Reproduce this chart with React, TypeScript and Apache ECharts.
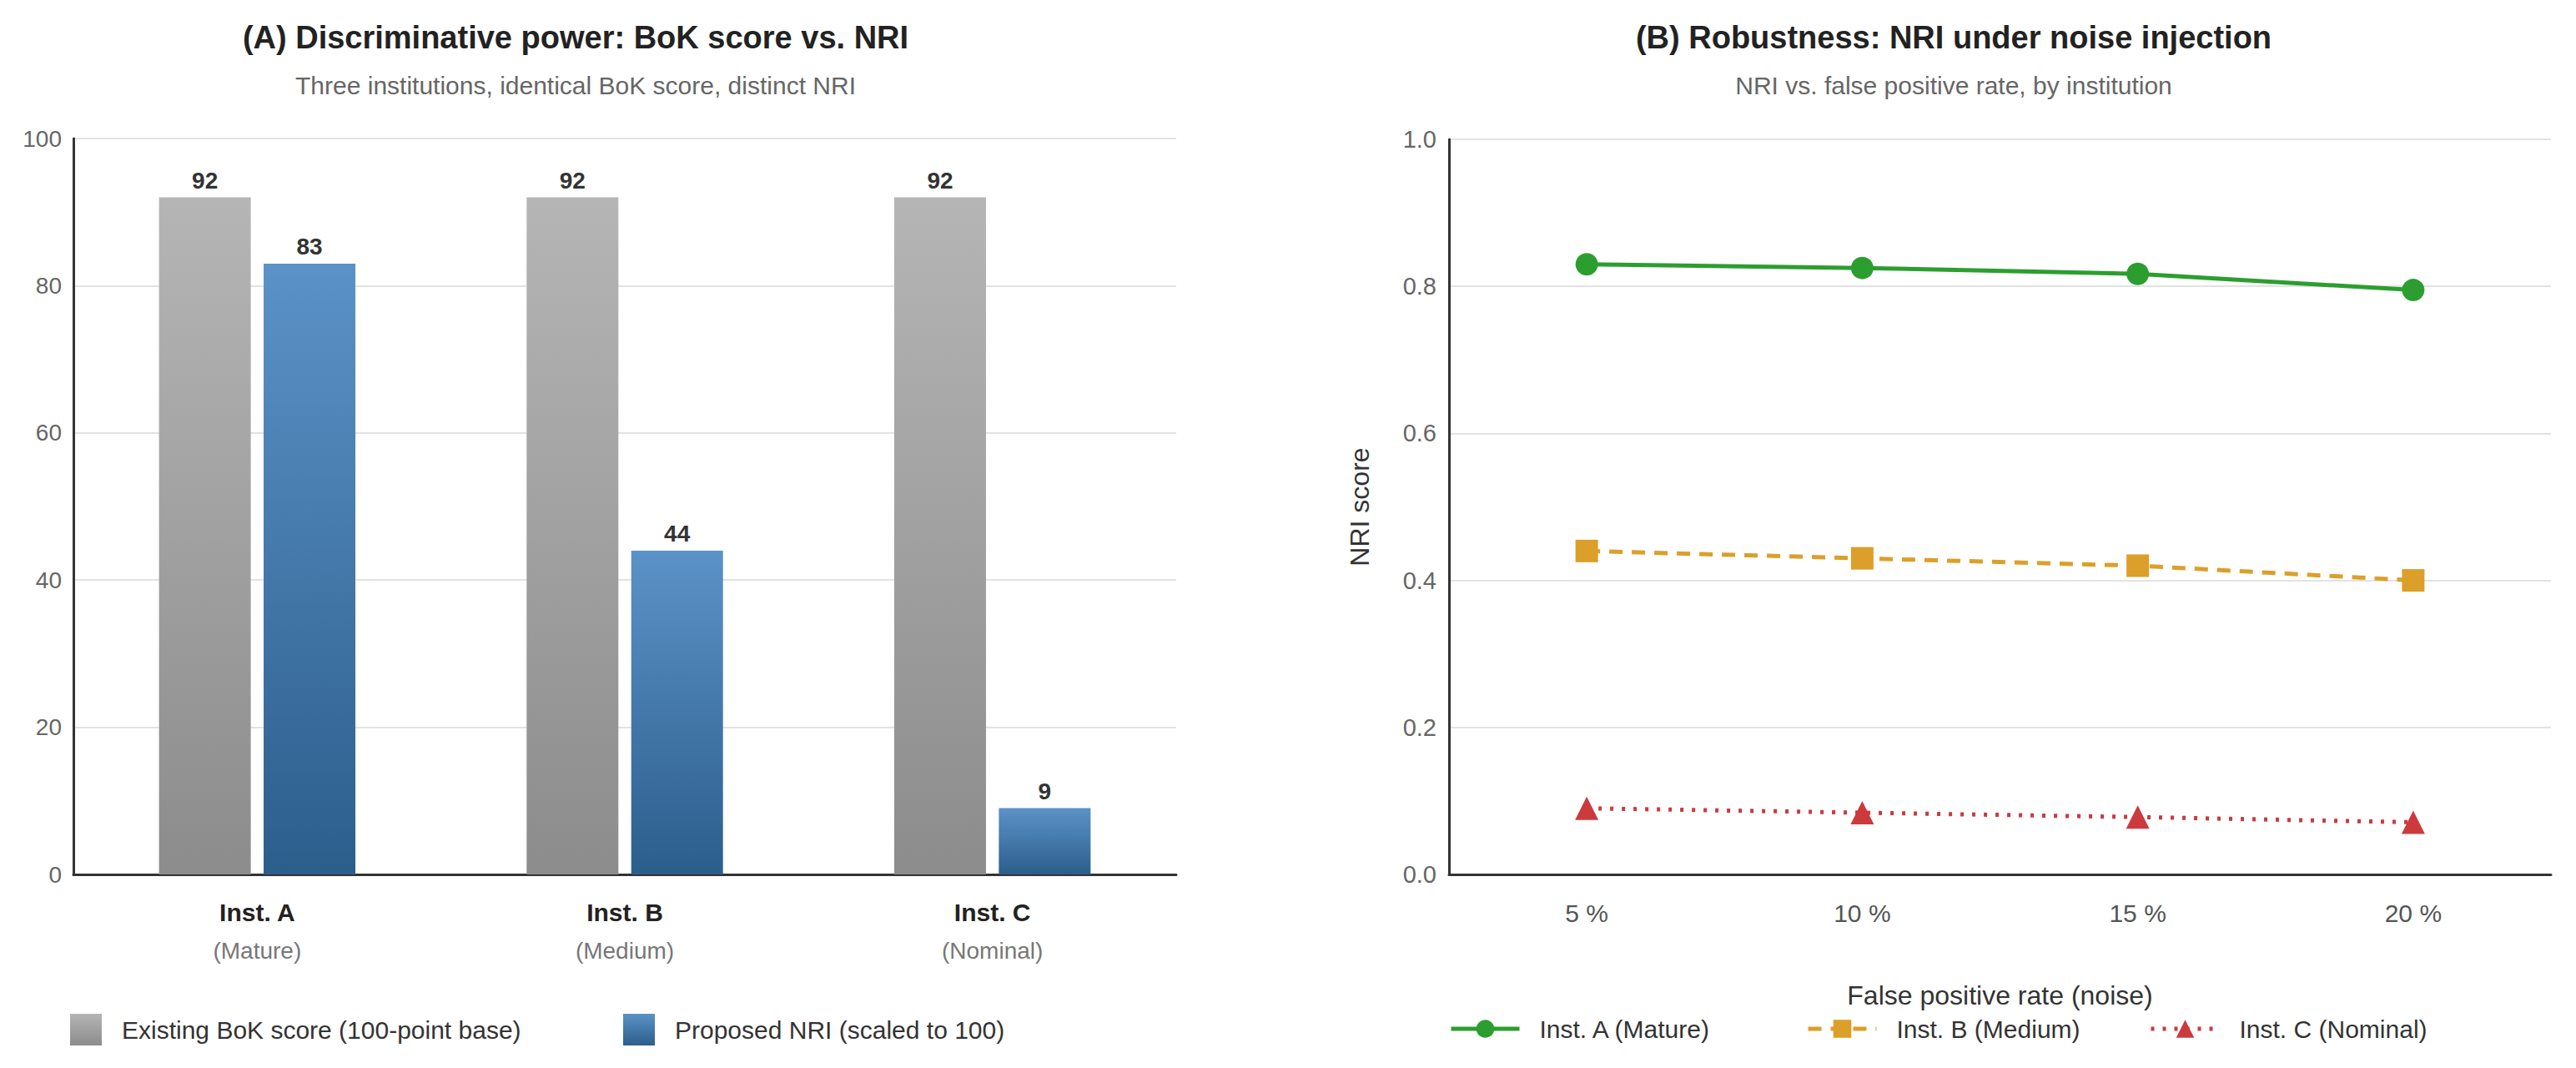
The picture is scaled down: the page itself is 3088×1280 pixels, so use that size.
import React, { useEffect, useRef } from 'react';
import * as echarts from 'echarts';

const instNames = ['Inst. A', 'Inst. B', 'Inst. C'];
const instTiers = ['Mature', 'Medium', 'Nominal'];
const bokScores = [92, 92, 92];
const nriScaled = [83, 44, 9];

const noiseLevels = ['5 %', '10 %', '15 %', '20 %'];
const nriMature = [0.83, 0.825, 0.817, 0.795];
const nriMedium = [0.44, 0.43, 0.42, 0.4];
const nriNominal = [0.09, 0.084, 0.078, 0.071];

const barSeriesNames = ['Existing BoK score (100-point base)', 'Proposed NRI (scaled to 100)'];
const lineSeriesNames = ['Inst. A (Mature)', 'Inst. B (Medium)', 'Inst. C (Nominal)'];

const W = 3088;
const H = 1280;
const FONT = '"Liberation Sans", Arial, Helvetica, sans-serif';

export default function App() {
  const ref = useRef<HTMLDivElement>(null);

  useEffect(() => {
    if (!ref.current) return;
    const chart = echarts.init(ref.current, undefined, { renderer: 'svg', width: W, height: H });

    const gray = new echarts.graphic.LinearGradient(0, 0, 0, 1, [
      { offset: 0, color: '#b5b5b5' },
      { offset: 1, color: '#8c8c8c' },
    ]);
    const blue = new echarts.graphic.LinearGradient(0, 0, 0, 1, [
      { offset: 0, color: '#5b92c7' },
      { offset: 1, color: '#2c5e8c' },
    ]);

    const green = '#2c9e2f';
    const orange = '#dc9f2a';
    const red = '#cc3a3e';

    const barLabel = {
      show: true,
      position: 'top',
      distance: 6,
      fontSize: 28,
      fontWeight: 'bold',
      color: '#333',
      fontFamily: FONT,
    };

    const axisLineStyle = { show: true, lineStyle: { color: '#333', width: 3 } };
    const splitLineStyle = { show: true, lineStyle: { color: '#e2e2e2', width: 2 } };

    const barLegend = (i: number, left: number) => ({
      data: [barSeriesNames[i]],
      left,
      top: 1215,
      padding: 0,
      itemWidth: 38,
      itemHeight: 38,
      icon: 'rect',
      textStyle: { fontSize: 30, color: '#333', fontFamily: FONT, padding: [0, 0, 0, 19] },
    });
    const lineLegend = (i: number, left: number) => ({
      data: [lineSeriesNames[i]],
      left,
      top: 1218,
      padding: 0,
      itemWidth: 82,
      itemHeight: 27,
      lineStyle: { width: 5 },
      textStyle: { fontSize: 30, color: '#333', fontFamily: FONT, padding: [0, 0, 0, 19] },
    });

    const option: any = {
      animation: false,
      backgroundColor: '#ffffff',
      textStyle: { fontFamily: FONT },
      title: [
        {
          text: '(A) Discriminative power: BoK score vs. NRI',
          left: 690, top: 26, textAlign: 'center', padding: 0,
          textStyle: { fontSize: 38, fontWeight: 'bold', color: '#222', fontFamily: FONT },
        },
        {
          text: 'Three institutions, identical BoK score, distinct NRI',
          left: 690, top: 87, textAlign: 'center', padding: 0,
          textStyle: { fontSize: 30, fontWeight: 'normal', color: '#666', fontFamily: FONT },
        },
        {
          text: '(B) Robustness: NRI under noise injection',
          left: 2342, top: 26, textAlign: 'center', padding: 0,
          textStyle: { fontSize: 38, fontWeight: 'bold', color: '#222', fontFamily: FONT },
        },
        {
          text: 'NRI vs. false positive rate, by institution',
          left: 2342, top: 87, textAlign: 'center', padding: 0,
          textStyle: { fontSize: 30, fontWeight: 'normal', color: '#666', fontFamily: FONT },
        },
      ],
      legend: [
        barLegend(0, 84),
        barLegend(1, 747),
        lineLegend(0, 1737),
        lineLegend(1, 2165),
        lineLegend(2, 2576),
      ],
      grid: [
        { left: 88, right: W - 1410, top: 166, bottom: H - 1048 },
        { left: 1737, right: W - 3058, top: 167, bottom: H - 1048 },
      ],
      xAxis: [
        {
          type: 'category',
          gridIndex: 0,
          data: instNames,
          axisLine: axisLineStyle,
          axisTick: { show: false },
          axisLabel: {
            margin: 22,
            formatter: (v: string, i: number) => `{a|${v}}\n{b|(${instTiers[i]})}`,
            rich: {
              a: { fontSize: 30, fontWeight: 'bold', color: '#222', lineHeight: 46, fontFamily: FONT },
              b: { fontSize: 28, color: '#777', lineHeight: 46, fontFamily: FONT },
            },
          },
        },
        {
          type: 'category',
          gridIndex: 1,
          data: noiseLevels,
          name: 'False positive rate (noise)',
          nameLocation: 'middle',
          nameGap: 145,
          nameTextStyle: { fontSize: 32, color: '#333', verticalAlign: 'middle', fontFamily: FONT },
          axisLine: axisLineStyle,
          axisTick: { show: false },
          axisLabel: { margin: 31, fontSize: 30, color: '#555', lineHeight: 30, fontFamily: FONT },
        },
      ],
      yAxis: [
        {
          type: 'value',
          gridIndex: 0,
          min: 0,
          max: 100,
          interval: 20,
          axisLine: axisLineStyle,
          axisTick: { show: false },
          axisLabel: { fontSize: 28, color: '#666', margin: 14, fontFamily: FONT },
          splitLine: splitLineStyle,
        },
        {
          type: 'value',
          gridIndex: 1,
          min: 0,
          max: 1,
          interval: 0.2,
          name: 'NRI score',
          nameLocation: 'middle',
          nameGap: 107,
          nameTextStyle: { fontSize: 32, color: '#333', verticalAlign: 'middle', fontFamily: FONT },
          axisLine: axisLineStyle,
          axisTick: { show: false },
          axisLabel: {
            fontSize: 29, color: '#666', margin: 15, fontFamily: FONT,
            formatter: (v: number) => v.toFixed(1),
          },
          splitLine: splitLineStyle,
        },
      ],
      series: [
        {
          type: 'bar',
          name: barSeriesNames[0],
          xAxisIndex: 0,
          yAxisIndex: 0,
          data: bokScores,
          barWidth: 110,
          barGap: '14%',
          itemStyle: { color: gray },
          label: barLabel,
        },
        {
          type: 'bar',
          name: barSeriesNames[1],
          xAxisIndex: 0,
          yAxisIndex: 0,
          data: nriScaled,
          barWidth: 110,
          barGap: '14%',
          itemStyle: { color: blue },
          label: barLabel,
        },
        {
          type: 'line',
          name: lineSeriesNames[0],
          xAxisIndex: 1,
          yAxisIndex: 1,
          data: nriMature,
          symbol: 'circle',
          symbolSize: 27,
          lineStyle: { color: green, width: 5 },
          itemStyle: { color: green },
        },
        {
          type: 'line',
          name: lineSeriesNames[1],
          xAxisIndex: 1,
          yAxisIndex: 1,
          data: nriMedium,
          symbol: 'rect',
          symbolSize: 27,
          lineStyle: { color: orange, width: 5, type: [16, 11] },
          itemStyle: { color: orange },
        },
        {
          type: 'line',
          name: lineSeriesNames[2],
          xAxisIndex: 1,
          yAxisIndex: 1,
          data: nriNominal,
          symbol: 'triangle',
          symbolSize: 28,
          lineStyle: { color: red, width: 5, type: [4, 10] },
          itemStyle: { color: red },
        },
      ],
    };

    chart.setOption(option);
    return () => {
      chart.dispose();
    };
  }, []);

  return (
    <div
      ref={ref}
      style={{ position: 'absolute', left: 0, top: 0, width: W, height: H, background: '#fff' }}
    />
  );
}
